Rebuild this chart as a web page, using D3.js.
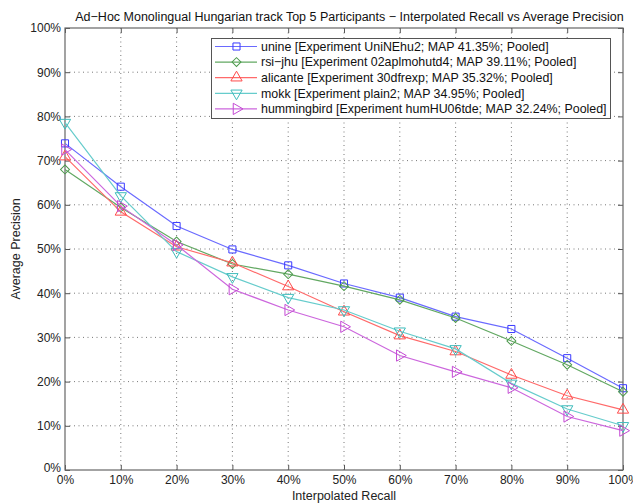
<!DOCTYPE html>
<html>
<head>
<meta charset="utf-8">
<script src="https://cdn.jsdelivr.net/npm/d3@7"></script>
<style>
  body { margin: 0; background: #fff; }
  text { font-family: "Liberation Sans", Arial, sans-serif; }
</style>
</head>
<body>
<div id="chart"></div>
<script>
// recall levels (x axis)
const recall = [0, 10, 20, 30, 40, 50, 60, 70, 80, 90, 100];
const tickLabels = ['0%', '10%', '20%', '30%', '40%', '50%', '60%', '70%', '80%', '90%', '100%'];

// series names (legend)
const names = [
    'unine [Experiment UniNEhu2; MAP 41.35%; Pooled]',
    'rsi\u2212jhu [Experiment 02aplmohutd4; MAP 39.11%; Pooled]',
    'alicante [Experiment 30dfrexp; MAP 35.32%; Pooled]',
    'mokk [Experiment plain2; MAP 34.95%; Pooled]',
    'hummingbird [Experiment humHU06tde; MAP 32.24%; Pooled]'
];

// precision values
const unine = [73.9, 64.1, 55.2, 49.9, 46.3, 42.2, 39.0, 34.7, 31.9, 25.3, 18.5];
const rsiJhu = [68.0, 59.4, 51.7, 46.6, 44.3, 41.6, 38.5, 34.4, 29.2, 23.8, 17.7];
const alicante = [70.9, 58.4, 50.5, 46.9, 41.5, 35.8, 30.4, 26.8, 21.5, 16.8, 13.6];
const mokk = [78.6, 62.0, 49.4, 43.7, 39.0, 36.2, 31.4, 27.4, 19.6, 13.8, 10.0];
const hummingbird = [72.5, 59.7, 50.9, 40.9, 36.2, 32.4, 25.9, 22.2, 18.6, 12.1, 8.9];

const seriesValues = [unine, rsiJhu, alicante, mokk, hummingbird];

const lineColors = ['#6a6aff', '#62a862', '#ff6a6a', '#66cccc', '#cc66dd'];
const markColors = ['#3a3aff', '#4c9a4c', '#ff4a4a', '#3fbcbc', '#c44ad4'];
const markers = ['square', 'diamond', 'up', 'down', 'right'];

// 画布
const width = 633, height = 503;

const svg = d3.select('#chart').append('svg')
    .attr('width', width)
    .attr('height', height);

// 比例尺
const x = d3.scaleLinear().domain([0, 100]).range([65, 623]);
const y = d3.scaleLinear().domain([0, 100]).range([470, 28]);

// grid
const grid = svg.append('g').attr('class', 'grid');
grid.selectAll('line.vg')
    .data(recall.slice(1, -1))
    .join('line')
    .attr('x1', d => x(d)).attr('x2', d => x(d))
    .attr('y1', y(0)).attr('y2', y(100))
    .attr('stroke', '#555')
    .attr('stroke-width', 0.8)
    .attr('stroke-dasharray', '1,3.5');
grid.selectAll('line.hg')
    .data(recall.slice(1, -1))
    .join('line')
    .attr('y1', d => y(d)).attr('y2', d => y(d))
    .attr('x1', x(0)).attr('x2', x(100))
    .attr('stroke', '#555')
    .attr('stroke-width', 0.8)
    .attr('stroke-dasharray', '1,3.5');

// 坐标轴
const fmt = d => d + '%';
const axisStyle = g => {
    g.select('.domain').remove();
    g.selectAll('.tick line').attr('stroke', '#555');
    g.selectAll('.tick text').attr('fill', '#222').style('font-size', '12px')
        .style('font-family', '"Liberation Sans", Arial, sans-serif');
};

svg.append('g')
    .attr('transform', `translate(0,${y(0)})`)
    .call(d3.axisBottom(x).tickValues(recall).tickFormat((d, i) => tickLabels[i]).tickSizeInner(-5).tickSizeOuter(0).tickPadding(5))
    .call(axisStyle);
svg.append('g')
    .attr('transform', `translate(0,${y(100)})`)
    .call(d3.axisTop(x).tickValues(recall).tickFormat('').tickSizeInner(-5).tickSizeOuter(0))
    .call(axisStyle);
svg.append('g')
    .attr('transform', `translate(${x(0)},0)`)
    .call(d3.axisLeft(y).tickValues(recall).tickFormat(fmt).tickSizeInner(-5).tickSizeOuter(0).tickPadding(4))
    .call(axisStyle)
    .call(g => g.select('.tick:first-of-type text').attr('dy', '0.1em'));
svg.append('g')
    .attr('transform', `translate(${x(100)},0)`)
    .call(d3.axisRight(y).tickValues(recall).tickFormat('').tickSizeInner(-5).tickSizeOuter(0))
    .call(axisStyle);

// box
svg.append('rect')
    .attr('x', x(0)).attr('y', y(100))
    .attr('width', x(100) - x(0)).attr('height', y(0) - y(100))
    .attr('fill', 'none')
    .attr('stroke', '#666')
    .attr('stroke-width', 1.2);

// 标记符号
const symbolPath = (type) => {
    if (type === 'square') return d3.symbol().type(d3.symbolSquare).size(50)();
    if (type === 'diamond') return d3.symbol().type(d3.symbolSquare).size(40)();
    return d3.symbol().type(d3.symbolTriangle).size(55)();
};
const symbolRotate = { square: 0, diamond: 45, up: 0, down: 180, right: 90 };

// 折线
const line = d3.line()
    .x((d, i) => x(recall[i]))
    .y(d => y(d));

seriesValues.forEach((vals, k) => {
    const g = svg.append('g').attr('class', 'series');
    g.append('path')
        .datum(vals)
        .attr('fill', 'none')
        .attr('stroke', lineColors[k])
        .attr('stroke-width', 1.2)
        .attr('d', line);
    g.selectAll('path.mark')
        .data(vals)
        .join('path')
        .attr('class', 'mark')
        .attr('d', symbolPath(markers[k]))
        .attr('transform', (d, i) => `translate(${x(recall[i])},${y(d)}) rotate(${symbolRotate[markers[k]]})`)
        .attr('fill', 'none')
        .attr('stroke', markColors[k])
        .attr('stroke-width', 1);
});

// legend
const lg = svg.append('g').attr('class', 'legend');
lg.append('rect')
    .attr('x', 211.5).attr('y', 38.5)
    .attr('width', 399).attr('height', 80)
    .attr('fill', '#fff')
    .attr('stroke', '#555')
    .attr('stroke-width', 1);
const rows = lg.selectAll('g.row')
    .data(names)
    .join('g')
    .attr('class', 'row')
    .attr('transform', (d, i) => `translate(0,${46.5 + i * 15.6})`);
rows.append('line')
    .attr('x1', 215).attr('x2', 257)
    .attr('stroke', (d, i) => lineColors[i])
    .attr('stroke-width', 1.2);
rows.append('path')
    .attr('d', (d, i) => symbolPath(markers[i]))
    .attr('transform', (d, i) => `translate(236.5,0) rotate(${symbolRotate[markers[i]]})`)
    .attr('fill', 'none')
    .attr('stroke', (d, i) => markColors[i]);
rows.append('text')
    .attr('x', 261)
    .attr('dy', '0.35em')
    .attr('fill', '#111')
    .style('font-size', '12.4px')
    .text(d => d);

// 标题与轴标签
svg.append('text')
    .attr('x', 349.5)
    .attr('y', 21)
    .attr('text-anchor', 'middle')
    .attr('fill', '#111')
    .style('font-size', '12.5px')
    .text('Ad\u2212Hoc Monolingual Hungarian track Top 5 Participants \u2212 Interpolated Recall vs Average Precision');

svg.append('text')
    .attr('x', (x(0) + x(100)) / 2)
    .attr('y', 500)
    .attr('text-anchor', 'middle')
    .attr('fill', '#222')
    .style('font-size', '12.5px')
    .text('Interpolated Recall');

svg.append('text')
    .attr('transform', `translate(20,${(y(0) + y(100)) / 2}) rotate(-90)`)
    .attr('text-anchor', 'middle')
    .attr('fill', '#222')
    .style('font-size', '12.5px')
    .text('Average Precision');
</script>
</body>
</html>
